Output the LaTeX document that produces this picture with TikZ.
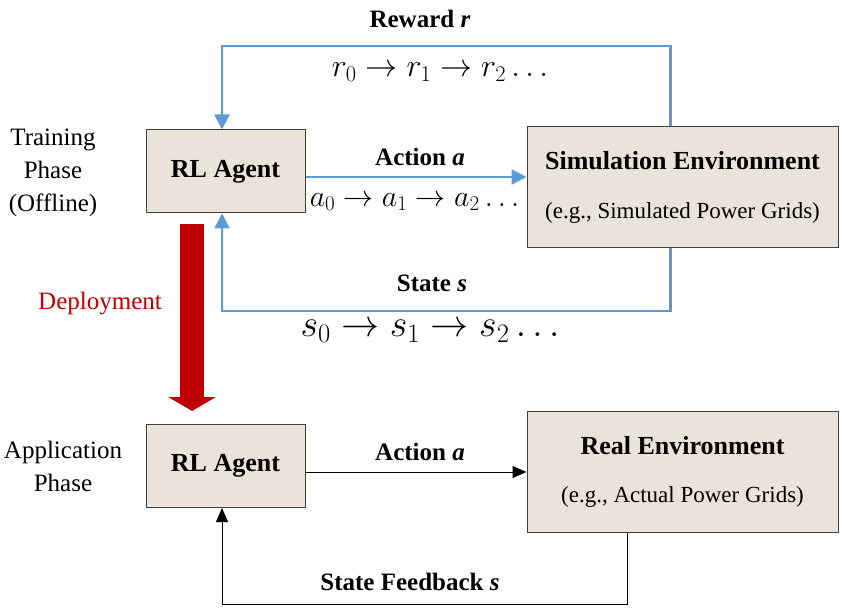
\RequirePackage{fix-cm}
\documentclass[tikz,border=0pt]{standalone}
\usepackage{fontspec}
\setmainfont{Liberation Serif}
\usetikzlibrary{arrows.meta}

\definecolor{boxfill}{HTML}{E9E3D9}
\definecolor{boxline}{HTML}{3F3F3F}
\definecolor{loopblue}{HTML}{5B9BD5}
\definecolor{deployred}{HTML}{C00000}

\tikzset{
    block/.style={draw=boxline, fill=boxfill, line width=1pt, align=center, inner sep=0pt},
    agent/.style={block, minimum width=159pt, minimum height=83pt, font=\bfseries\fontsize{26}{30}\selectfont},
    env/.style={block, minimum width=311pt, minimum height=121pt},
    blueflow/.style={loopblue, line width=2.6pt, -{Triangle[length=15pt, width=15pt]}},
    blackflow/.style={black, line width=1pt, -{Triangle[length=14pt, width=12pt]}},
    flowlabel/.style={font=\bfseries\fontsize{25}{29}\selectfont},
    phase/.style={align=center, font=\fontsize{25}{33}\selectfont},
}

\begin{document}
\begin{tikzpicture}[x=1pt, y=-1pt]
    \useasboundingbox (0,0) rectangle (842,609);

    \node [agent] (ag1) at (225.5,171.5) {RL Agent};
    \node [env] (sim) at (682.5,187.5) {{\bfseries\fontsize{26}{30}\selectfont Simulation Environment}\\[31pt]{\fontsize{23}{27}\selectfont (e.g., Simulated Power Grids)}};
    \node [agent] (ag2) at (225.5,466) {RL Agent};
    \node [env] (real) at (682.5,472) {{\bfseries\fontsize{26}{30}\selectfont Real Environment}\\[31pt]{\fontsize{23}{27}\selectfont (e.g., Actual Power Grids)}};

    \node [phase] (train) at (53,173) {Training\\Phase\\(Offline)};
    \node [phase] (apply) at (63,466) {Application\\Phase};

    \draw [blueflow] ([xshift=-12pt]sim.north) |- (222,46) -| ([xshift=-3.5pt]ag1.north);
    \draw [blueflow] ([xshift=-12pt]sim.south) |- (222,311) -| ([xshift=-3.5pt]ag1.south);
    \draw [blueflow] (ag1.east |- 0,177) -- (sim.west |- 0,177);
    \draw [blackflow] (ag2.east |- 0,472) -- (real.west |- 0,472);
    \draw [blackflow] ([xshift=-55.5pt]real.south) |- (222,604) -| ([xshift=-3.5pt]ag2.south);

    \draw [deployred, line width=24pt, -{Triangle[length=14pt, width=47pt]}]
        ([shift={(-33.5pt,-11pt)}]ag1.south) -- ([shift={(-33.5pt,13pt)}]ag2.north);
    \node [deployred, font=\fontsize{25}{29}\selectfont] (deploy) at (100,304) {Deployment};

    \node [flowlabel] (rew) at (420,19) {Reward \textit{r}};
    \node [flowlabel] (act1) at (420,157) {Action \textit{a}};
    \node [flowlabel] (st1) at (432,283) {State \textit{s}};
    \node [flowlabel] (act2) at (420,452) {Action \textit{a}};
    \node [flowlabel] (fb) at (410,582) {State Feedback \textit{s}};

    \node [font=\fontsize{32}{36}\selectfont] (rseq) at (440,72) {$r_0 \rightarrow r_1 \rightarrow r_2 \dots$};
    \node [font=\fontsize{30}{34}\selectfont] (aseq) at (414.5,202) {$a_0 \rightarrow a_1 \rightarrow a_2 \dots$};
    \node [font=\fontsize{38}{42}\selectfont] (sseq) at (430,331) {$s_0 \rightarrow s_1 \rightarrow s_2 \dots$};
\end{tikzpicture}
\end{document}
